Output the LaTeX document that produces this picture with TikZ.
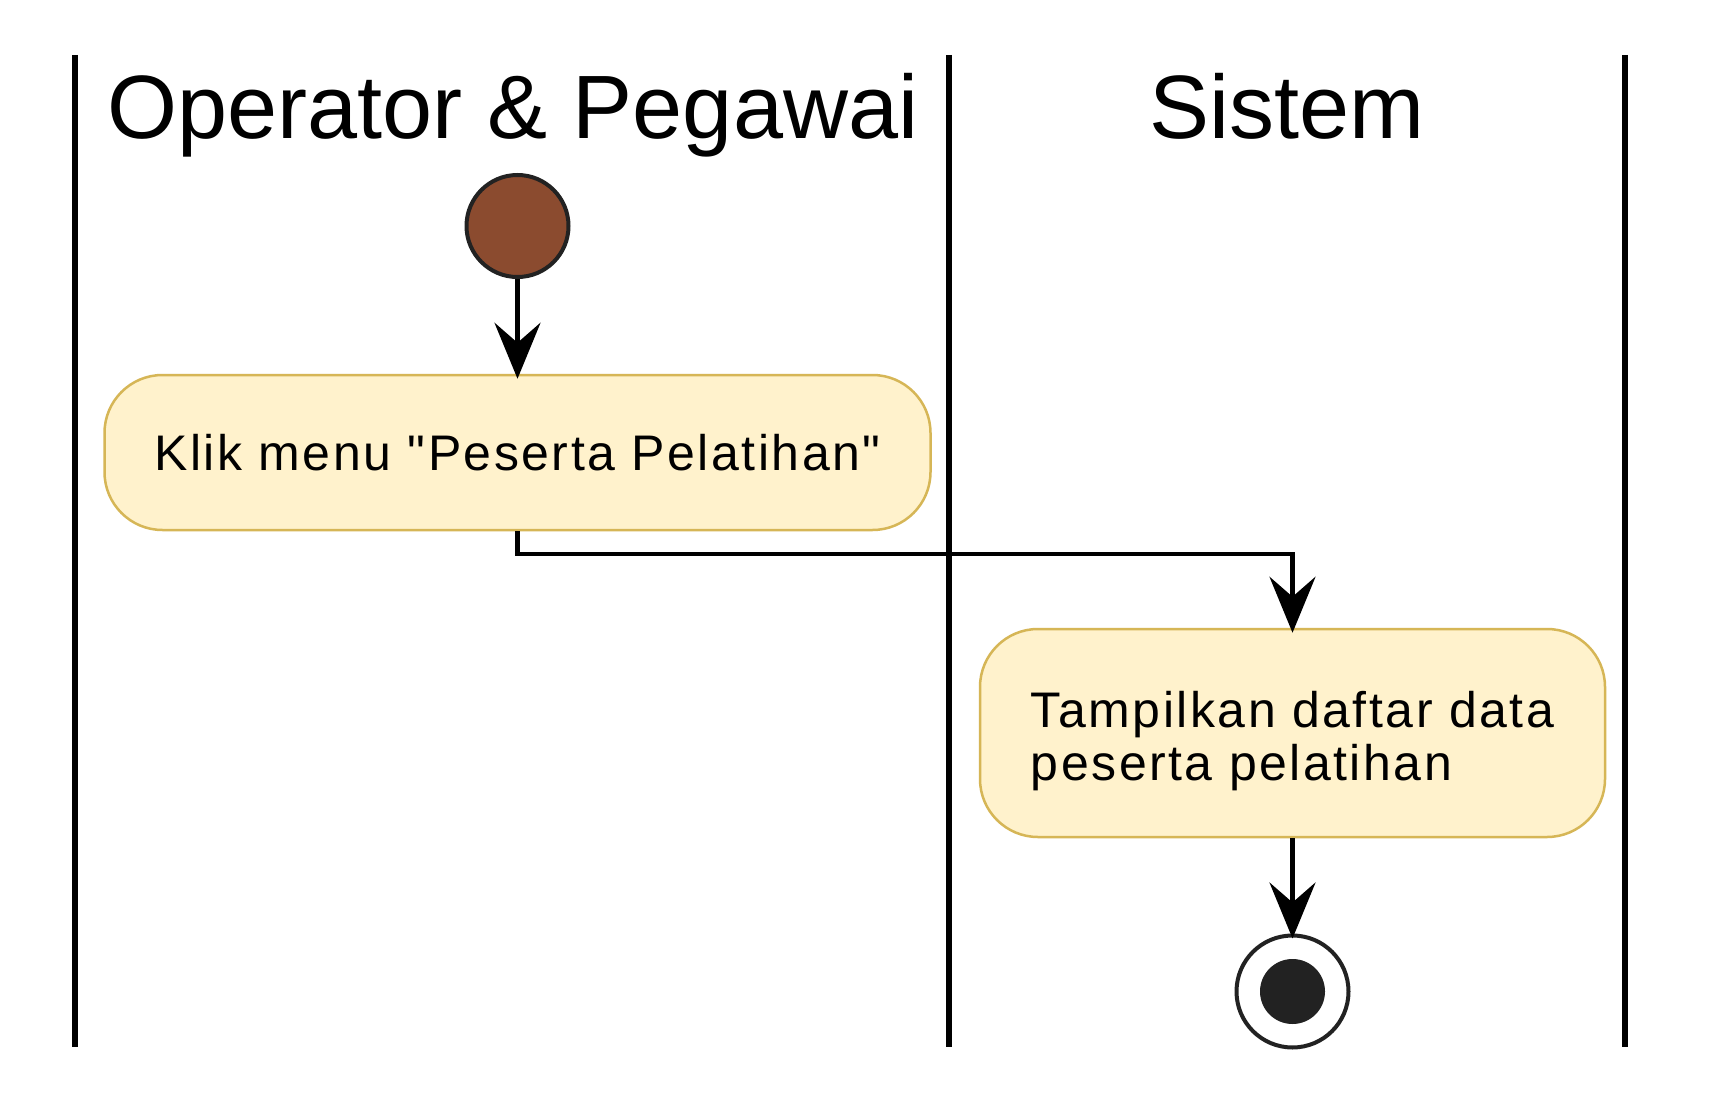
\documentclass[tikz,border=0pt]{standalone}
\usepackage{fontspec}
\setmainfont{Liberation Sans}
\newfontfamily\boxfont[LetterSpace=5]{Liberation Sans}
\usetikzlibrary{arrows.meta}
\definecolor{boxfill}{HTML}{FFF2CC}
\definecolor{boxline}{HTML}{D6B656}
\definecolor{startfill}{HTML}{8B4B2F}
\definecolor{darkline}{HTML}{222222}
\begin{document}
\begin{tikzpicture}[x=1pt,y=-1pt,
  lane/.style={line width=5.5pt},
  title/.style={font=\fontsize{90}{108}\selectfont, anchor=base, inner sep=0pt},
  action/.style={draw=boxline, fill=boxfill, line width=2.5pt, rounded corners=58pt,
                 font=\boxfont\fontsize{50}{53}\selectfont, inner sep=0pt},
  flow/.style={line width=4.5pt, shorten >=-5pt, -{Stealth[length=56pt,width=46pt,inset=20pt]}},
]
\useasboundingbox (0,0) rectangle (1730,1105);
\fill[white] (0,0) rectangle (1730,1105);

% swimlane separators
\coordinate (l0t) at (75,55);   \coordinate (l0b) at (75,1047);
\coordinate (l1t) at (949,55);  \coordinate (l1b) at (949,1047);
\coordinate (l2t) at (1625,55); \coordinate (l2b) at (1625,1047);
\draw[lane] (l0t) -- (l0b);
\draw[lane] (l1t) -- (l1b);
\draw[lane] (l2t) -- (l2b);

% lane titles
\node[title] (t1) at (513,139) {Operator \& Pegawai};
\node[title] (t2) at (1287,139) {Sistem};

% nodes
\node[circle, draw=darkline, fill=startfill, line width=4pt, minimum size=102pt, inner sep=0pt] (start) at (517.5,226) {};
\node[action, minimum width=826pt, minimum height=155pt] (a1) at (517.5,452.5) {Klik menu "Peserta Pelatihan"};
\node[action, minimum width=625pt, minimum height=208pt, align=left] (a2) at (1292.5,733)
  {\rule{0pt}{52pt}Tampilkan daftar data\\peserta pelatihan};
\node[circle, draw=darkline, fill=white, line width=4pt, minimum size=112pt, inner sep=0pt] (end) at (1292.5,991.5) {};
\fill[darkline] (end.center) circle (32.5);

% connectors
\coordinate (bend) at (517.5,554);
\draw[flow] (start) -- (a1);
\draw[flow] (a1.south) -- (bend) -| (a2.north);
\draw[flow] (a2) -- (end);
\end{tikzpicture}
\end{document}
